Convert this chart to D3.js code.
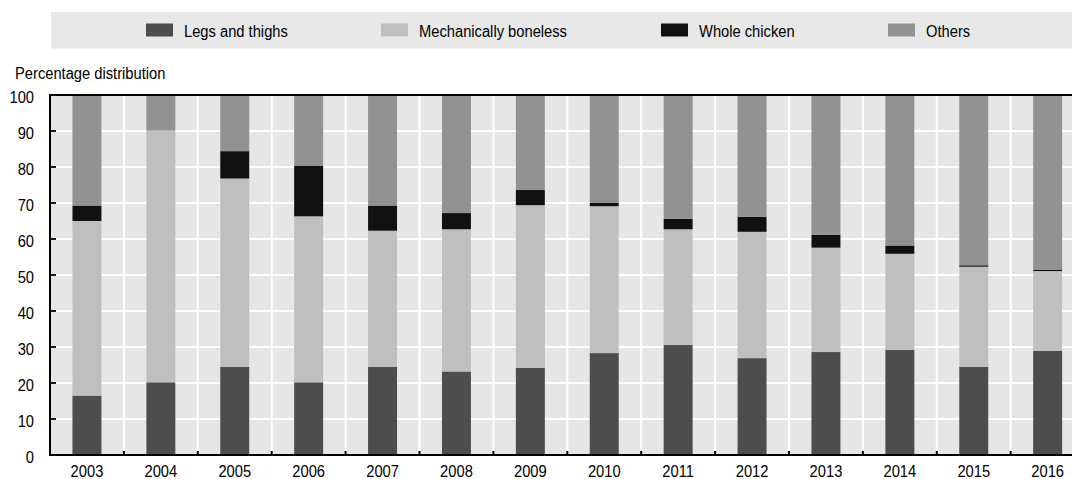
<!DOCTYPE html>
<html>
<head>
<meta charset="utf-8">
<script src="https://cdn.jsdelivr.net/npm/d3@7"></script>
<style>
  html, body { margin: 0; padding: 0; background: #ffffff; }
  svg { display: block; }
  text { font-family: Arial, "Liberation Sans", sans-serif; fill: #000; font-size: 16px; }
</style>
</head>
<body>
<script>
// Chicken meat imports by cut, percentage distribution per year
const years = ["2003","2004","2005","2006","2007","2008","2009","2010","2011","2012","2013","2014","2015","2016"];
const legsAndThighs        = [16.5, 20.2, 24.5, 20.2, 24.5, 23.2, 24.2, 28.3, 30.6, 26.9, 28.6, 29.2, 24.5, 28.9];
const mechanicallyBoneless = [48.5, 69.9, 52.3, 46.1, 37.8, 39.5, 45.2, 40.8, 32.1, 35.1, 29.0, 26.7, 27.8, 22.2];
const wholeChicken         = [ 4.3,  0.0,  7.6, 14.1,  7.0,  4.5,  4.2,  0.9,  2.9,  4.2,  3.6,  2.3,  0.4,  0.3];
const others               = [30.7,  9.9, 15.6, 19.6, 30.7, 32.8, 26.4, 30.0, 34.4, 33.8, 38.8, 41.8, 47.3, 48.6];

const seriesNames = ["Legs and thighs", "Mechanically boneless", "Whole chicken", "Others"];
const seriesColors = ["#4d4d4d", "#bfbfbf", "#111111", "#929292"];
const yTicks = [0, 10, 20, 30, 40, 50, 60, 70, 80, 90, 100];
const yTitle = "Percentage distribution";

const W = 1072, H = 479;
const plotLeft = 50, plotTop = 95, plotBottom = 455;
const step = 73.9;
const plotRight = plotLeft + step * years.length;
const pad = 0.608;
const squeeze = 0.92; // slightly condensed lettering

const svg = d3.select("body").append("svg").attr("width", W).attr("height", H);

// Place a condensed text label at (x, y)
function label(parent, x, y, str, anchor) {
  return parent.append("text")
    .attr("transform", `translate(${x},${y}) scale(${squeeze},1)`)
    .attr("text-anchor", anchor || "start")
    .text(str);
}

// Rows for the stack layout
const rows = years.map((yr, i) => ({
  year: yr,
  "Legs and thighs": legsAndThighs[i],
  "Mechanically boneless": mechanicallyBoneless[i],
  "Whole chicken": wholeChicken[i],
  "Others": others[i]
}));
const stacked = d3.stack().keys(seriesNames)(rows);

const x = d3.scaleBand().domain(years).range([plotLeft, plotRight])
  .paddingInner(pad).paddingOuter(pad / 2);
const y = d3.scaleLinear().domain([0, 100]).range([plotBottom, plotTop]);
const color = d3.scaleOrdinal().domain(seriesNames).range(seriesColors);

// Legend band
const legend = svg.append("g");
legend.append("rect").attr("x", 51).attr("y", 12).attr("width", W - 51).attr("height", 36.5)
  .attr("fill", "#e8e8e8");
const legendSwatchX = [146, 381, 661, 888];
seriesNames.forEach((name, i) => {
  legend.append("rect").attr("x", legendSwatchX[i]).attr("y", 23.5).attr("width", 27).attr("height", 13)
    .attr("fill", color(name));
  label(legend, legendSwatchX[i] + 38, 36.5, name);
});

// Axis title
label(svg, 15, 78.5, yTitle);

// Plot background
svg.append("rect").attr("x", plotLeft).attr("y", plotTop)
  .attr("width", plotRight - plotLeft).attr("height", plotBottom - plotTop)
  .attr("fill", "#e6e6e6");

// Horizontal grid
svg.append("g").selectAll("line").data(yTicks.filter(t => t > 0 && t < 100)).join("line")
  .attr("x1", plotLeft).attr("x2", plotRight)
  .attr("y1", d => y(d)).attr("y2", d => y(d))
  .attr("stroke", "#ffffff").attr("stroke-width", 2);

// Vertical grid at category boundaries
const boundaries = years.slice(1).map(yr => x(yr) - x.step() * pad / 2);
svg.append("g").selectAll("line").data(boundaries).join("line")
  .attr("x1", d => d).attr("x2", d => d)
  .attr("y1", plotTop).attr("y2", plotBottom)
  .attr("stroke", "#ffffff").attr("stroke-width", 2);

// Stacked bars
svg.append("g").selectAll("g").data(stacked).join("g")
  .attr("fill", d => color(d.key))
  .selectAll("rect").data(d => d).join("rect")
  .attr("x", d => x(d.data.year))
  .attr("width", x.bandwidth())
  .attr("y", d => y(d[1]))
  .attr("height", d => y(d[0]) - y(d[1]));

// Y axis: inner ticks, labels on the left
const yAxis = svg.append("g");
yAxis.selectAll("line").data(yTicks.filter(t => t > 0 && t < 100)).join("line")
  .attr("x1", plotLeft).attr("x2", plotLeft + 6)
  .attr("y1", d => y(d)).attr("y2", d => y(d))
  .attr("stroke", "#000").attr("stroke-width", 1.8);
yTicks.forEach(t => label(yAxis, 34, y(t) + 8, String(t), "end"));

// Frame lines: left, top, bottom
svg.append("line").attr("x1", plotLeft).attr("x2", plotLeft).attr("y1", plotTop - 1).attr("y2", plotBottom + 1)
  .attr("stroke", "#000").attr("stroke-width", 2);
svg.append("line").attr("x1", plotLeft).attr("x2", plotRight).attr("y1", plotTop).attr("y2", plotTop)
  .attr("stroke", "#000").attr("stroke-width", 2);
svg.append("line").attr("x1", plotLeft).attr("x2", plotRight).attr("y1", plotBottom).attr("y2", plotBottom)
  .attr("stroke", "#000").attr("stroke-width", 2);

// X axis: small inner ticks at boundaries and year labels
const xAxis = svg.append("g");
xAxis.selectAll("line").data(boundaries).join("line")
  .attr("x1", d => d).attr("x2", d => d)
  .attr("y1", plotBottom).attr("y2", plotBottom - 4)
  .attr("stroke", "#000").attr("stroke-width", 2);
years.forEach(yr => label(xAxis, x(yr) + x.bandwidth() / 2, 477, yr, "middle"));
</script>
</body>
</html>
